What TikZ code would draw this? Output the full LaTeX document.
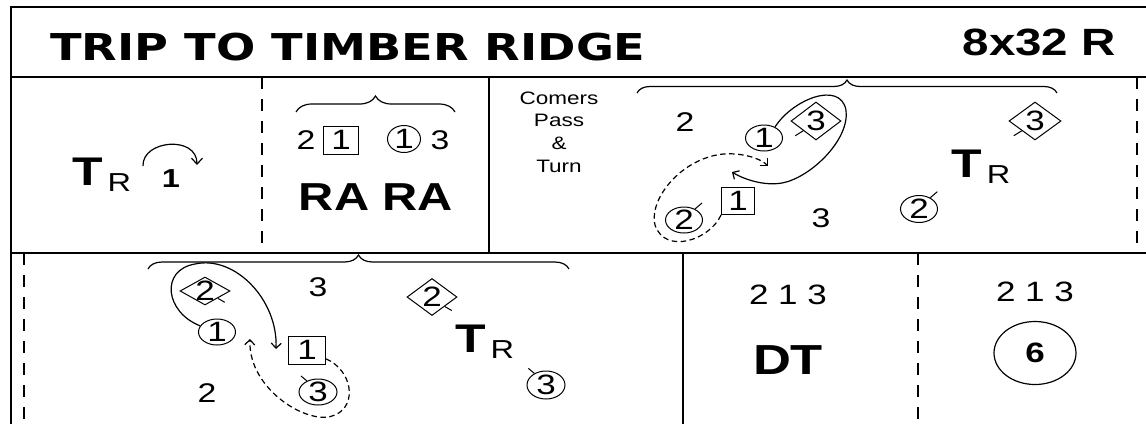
\documentclass[tikz,border=0pt]{standalone}
\usepackage{fontspec}
\setmainfont{Liberation Sans}[FakeStretch=1.25]
\newfontfamily\titlefont{DejaVu Sans}[FakeStretch=1.25]
\usetikzlibrary{shapes.geometric,arrows.meta,decorations.pathreplacing}

\newcommand{\symfont}{\fontsize{28}{28}\selectfont}
\newcommand{\numfont}{\fontsize{27}{27}\selectfont}
\newcommand{\turnR}{{\bfseries\fontsize{40}{40}\selectfont T}\hspace{5pt}\raisebox{-6.5pt}{\fontsize{26}{26}\selectfont R}}

\tikzset{
  frameline/.style={line width=1.8pt},
  framedash/.style={line width=1.8pt, dash pattern=on 12pt off 10pt},
  dancer/.style={ellipse, draw, line width=1pt, minimum width=37pt, minimum height=26pt,
    inner sep=-2pt, font=\symfont},
  manbox/.style={rectangle, draw, line width=1pt, minimum width=35pt, minimum height=28pt,
    inner sep=0pt, font=\symfont},
  cornerdmd/.style={diamond, draw, line width=1pt, minimum width=50pt, minimum height=38pt,
    inner sep=0pt, label={[font=\symfont]center:#1}},
  dtick/.style={line width=1pt},
  turnarrow/.style={line width=1.2pt, -{Straight Barb[length=6pt,width=11pt]}},
  pathsolid/.style={line width=1.2pt, -{Straight Barb[length=5pt,width=10pt]}},
  pathdash/.style={pathsolid, dash pattern=on 5.5pt off 3.5pt},
  figbrace/.style={decorate, decoration={brace, amplitude=#1}, line width=1.2pt},
  plain/.style={anchor=base, inner sep=0pt, font=\numfont},
}

\begin{document}
\begin{tikzpicture}[x=1pt, y=-1pt]
  \useasboundingbox (0,0) rectangle (1146,424);

  \draw[frameline] (1146,7) -- (11,7) -- (11,424);
  \draw[frameline] (11,77) -- (1146,77);
  \draw[frameline] (11,253) -- (1146,253);
  \draw[frameline] (489,77) -- (489,253);
  \draw[frameline] (683,253) -- (683,424);
  \draw[framedash] (262,77) -- (262,253);
  \draw[framedash] (1137,77) -- (1137,253);
  \draw[framedash] (24,253) -- (24,424);
  \draw[framedash] (918,253) -- (918,424);

  \node[anchor=base west, inner sep=0pt, font=\titlefont\bfseries\fontsize{37}{37}\selectfont] (title) at (50,60) {TRIP TO TIMBER RIDGE};
  \node[anchor=base east, inner sep=0pt, font=\bfseries\fontsize{38}{38}\selectfont] (bars) at (1116,55) {8x32 R};

  \node[anchor=base west, inner sep=0pt] (tr1) at (72,185) {\turnR};
  \node[plain, font=\bfseries\fontsize{26}{26}\selectfont] (one) at (171,187) {1};
  \coordinate (turnS) at (143,166);
  \coordinate (turnE) at (197,165);
  \draw[turnarrow] (turnS) .. controls (142,140) and (197,135) .. (turnE);

  \draw[figbrace=16pt] (296,112) -- (455,112);
  \node[plain] (rb2) at (306,149) {2};
  \node[manbox] (rb1) at (341,140) {1};
  \node[dancer, minimum width=33pt, minimum height=27pt] (rc1) at (404,139) {1};
  \node[plain] (rc3) at (440,149) {3};
  \node[plain, font=\bfseries\fontsize{39}{39}\selectfont] (ra) at (376,210) {RA RA};

  \node[font=\fontsize{18}{22.7}\selectfont, align=center, inner sep=0pt] (cpt) at (559,132) {Comers\\Pass\\\&\\Turn};
  \draw[figbrace=13pt] (637,93) -- (1057,93);
  \node[plain] (p2) at (685,131) {2};
  \node[dancer] (p1) at (764,138) {1};
  \node[cornerdmd=3] (pw3) at (816,121) {};
  \draw[dtick] (pw3.south west) -- ++(-8,5);
  \node[manbox, minimum width=33pt, minimum height=27pt] (pm1) at (738,201) {1};
  \node[dancer] (pd2) at (684,220) {2};
  \draw[dtick] (pd2.45) -- ++(7,-6);
  \node[plain] (p3) at (821,227) {3};
  \coordinate (pEndS) at (732,172);
  \coordinate (pEndD) at (768,166);
  \draw[pathsolid] (p1.45) .. controls (792,100) and (840,80) .. (846,110)
    .. controls (850,140) and (810,178) .. (782,183) .. controls (765,186) and (745,180) .. (pEndS);
  \draw[pathdash] (pm1.south west) .. controls (710,240) and (665,255) .. (655,225)
    .. controls (648,195) and (690,150) .. (735,154) .. controls (750,155) and (762,160) .. (pEndD);
  \node[cornerdmd=3, minimum width=52pt] (pw3r) at (1035,121) {};
  \draw[dtick] (pw3r.south west) -- ++(-8,5);
  \node[anchor=base west, inner sep=0pt] (tr2) at (951,177) {\turnR};
  \node[dancer, minimum height=27pt] (pd2r) at (919,209) {2};
  \draw[dtick] (pd2r.45) -- ++(7,-6);

  \draw[figbrace=14pt] (148,269) -- (569,269);
  \node[cornerdmd=2, minimum height=28pt] (qw2) at (205,291) {};
  \draw[dtick] (qw2.south east) -- ++(7,4);
  \node[plain] (q3) at (318,296) {3};
  \node[dancer] (qd1) at (217,332) {1};
  \node[manbox, minimum width=37pt] (qm1) at (307,350) {1};
  \node[dancer, minimum width=38pt] (qd3) at (318,392) {3};
  \draw[dtick] (qd3.135) -- ++(-6,-5);
  \node[plain] (q2) at (207,402) {2};
  \coordinate (qEndS) at (276,349);
  \coordinate (qEndD) at (250,339);
  \draw[pathsolid] (qd1.160) .. controls (165,312) and (160,270) .. (195,264)
    .. controls (235,255) and (278,300) .. (qEndS);
  \draw[pathdash] (qm1.-25) .. controls (352,370) and (358,405) .. (335,415)
    .. controls (310,427) and (248,390) .. (qEndD);
  \node[cornerdmd=2, minimum height=37pt] (qw2r) at (432,297) {};
  \draw[dtick] (qw2r.south east) -- ++(7,4);
  \node[anchor=base west, inner sep=0pt] (tr3) at (455,352) {\turnR};
  \node[dancer, minimum width=38pt, minimum height=28pt] (qd3r) at (546,385) {3};
  \draw[dtick] (qd3r.135) -- ++(-6,-5);

  \node[plain, font=\fontsize{28}{28}\selectfont] (ord1) at (788,304) {2 1 3};
  \node[plain, font=\bfseries\fontsize{42}{42}\selectfont] (dt) at (788,374) {DT};
  \node[plain, font=\fontsize{28}{28}\selectfont] (ord2) at (1035,301) {2 1 3};
  \node[ellipse, draw, line width=1.2pt, minimum width=82pt, minimum height=63pt, inner sep=0pt,
    font=\bfseries\fontsize{28}{28}\selectfont] (six) at (1035,353) {6};
\end{tikzpicture}
\end{document}
